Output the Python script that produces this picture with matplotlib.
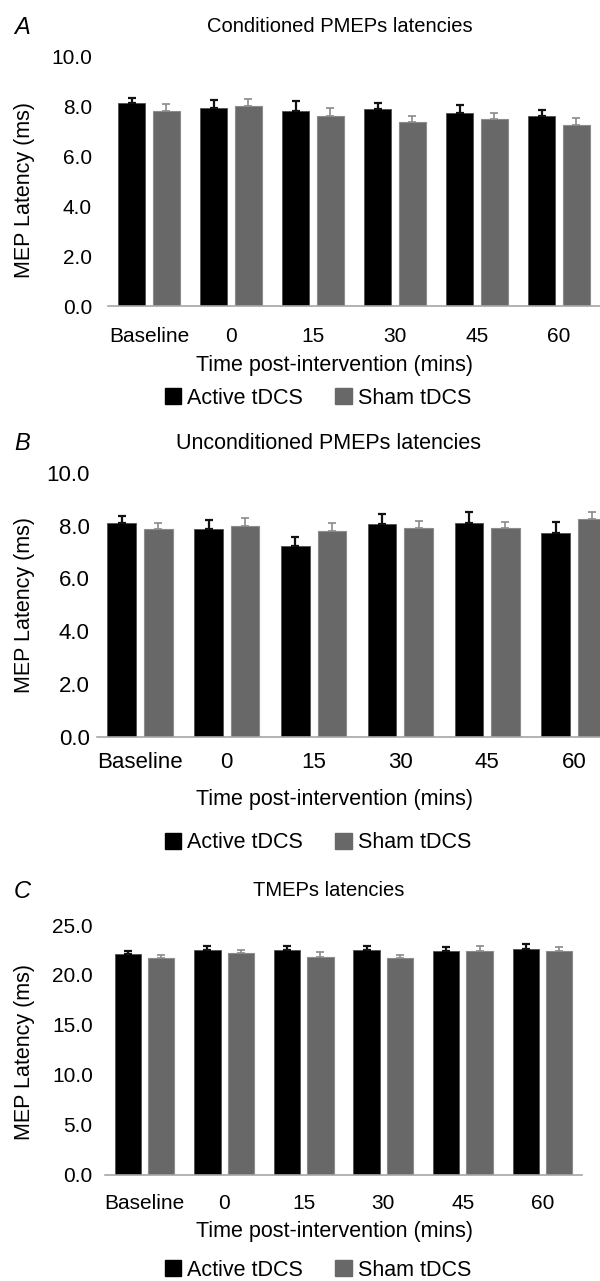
import matplotlib
matplotlib.use('Agg')
import matplotlib.pyplot as plt
from matplotlib.patches import Patch
import numpy as np

plt.rcParams['font.family'] = ['Liberation Sans', 'DejaVu Sans']

# x categories (time after the intervention)
categories = ['Baseline', '0', '15', '30', '45', '60']
groups = ['Active tDCS', 'Sham tDCS']

# panel A - conditioned PMEPs
cond_active = [8.11, 7.92, 7.81, 7.87, 7.73, 7.59]
cond_active_err = [0.23, 0.32, 0.39, 0.27, 0.31, 0.27]
cond_sham = [7.81, 8.01, 7.59, 7.35, 7.48, 7.25]
cond_sham_err = [0.27, 0.28, 0.32, 0.27, 0.23, 0.28]

# panel B - unconditioned PMEPs
uncond_active = [8.09, 7.85, 7.22, 8.05, 8.09, 7.72]
uncond_active_err = [0.28, 0.37, 0.36, 0.38, 0.43, 0.43]
uncond_sham = [7.85, 8.00, 7.78, 7.90, 7.90, 8.23]
uncond_sham_err = [0.24, 0.28, 0.32, 0.28, 0.25, 0.28]

# panel C - TMEPs
tmep_active = [22.07, 22.53, 22.53, 22.53, 22.40, 22.63]
tmep_active_err = [0.33, 0.40, 0.40, 0.40, 0.43, 0.43]
tmep_sham = [21.73, 22.17, 21.83, 21.73, 22.40, 22.40]
tmep_sham_err = [0.30, 0.33, 0.44, 0.30, 0.53, 0.43]

W, H = 600, 1281
BLACK = '#000000'
GREY = '#686868'

fig = plt.figure(figsize=(W / 100, H / 100), dpi=100)


# pixel coords (from top left) -> figure fraction
def px(x, y):
    return x / W, 1 - y / H


def plotPanel(letter, title, active, activeErr, sham, shamErr, ymax, step,
              left, right, top, bottom, fs, ypad, xpad,
              titleY, titleX, xlabY, legY, ylabY):
    ax = fig.add_axes([left / W, 1 - bottom / H, (right - left) / W, (bottom - top) / H])
    x = np.arange(len(categories))
    w = 0.33
    off = 0.21
    ax.bar(x - off, active, w, color=BLACK, edgecolor='#505050', linewidth=0.6, zorder=2)
    ax.bar(x + off, sham, w, color=GREY, edgecolor='#8c8c8c', linewidth=0.8, zorder=2)
    # only the upper half of the error bar is drawn, like excel "plus" bars
    ax.errorbar(x - off, active, yerr=[np.zeros(len(active)), activeErr], fmt='none',
                ecolor='#111111', elinewidth=1.6, capsize=3, capthick=1.6, zorder=3)
    ax.errorbar(x + off, sham, yerr=[np.zeros(len(sham)), shamErr], fmt='none',
                ecolor='#8a8a8a', elinewidth=1.2, capsize=3, capthick=1.2, zorder=3)

    ax.set_xlim(-0.5, len(categories) - 0.5)
    ax.set_ylim(0, ymax)
    ax.set_yticks(np.arange(0, ymax + 0.01, step))
    ax.set_yticklabels(['%.1f' % v for v in np.arange(0, ymax + 0.01, step)])
    ax.set_xticks(x)
    ax.set_xticklabels(categories)
    ax.tick_params(axis='y', length=0, pad=ypad, labelsize=fs)
    ax.tick_params(axis='x', length=0, pad=xpad, labelsize=fs)
    for s in ['top', 'right', 'left']:
        ax.spines[s].set_visible(False)
    ax.spines['bottom'].set_color('#a6a6a6')
    ax.spines['bottom'].set_linewidth(1.2)
    ax.spines['bottom'].set_zorder(4)
    ax.patch.set_alpha(0)

    fig.text(*px(14, titleY), letter, fontsize=17, style='italic', ha='left', va='center')
    fig.text(*px(titleX, titleY), title, fontsize=fs - 0.5, ha='center', va='center')
    fig.text(*px(334, xlabY), 'Time post-intervention (mins)', fontsize=15.5,
             ha='center', va='center')
    fig.text(*px(25, ylabY), 'MEP Latency (ms)', fontsize=15.5, rotation=90,
             ha='center', va='center')

    handles = [Patch(facecolor=BLACK, edgecolor=BLACK), Patch(facecolor=GREY, edgecolor=GREY)]
    fig.legend(handles, groups, loc='center', bbox_to_anchor=px(318, legY), ncol=2,
               frameon=False, fontsize=15.5, handlelength=0.75, handleheight=0.7,
               handletextpad=0.3, columnspacing=1.5, borderpad=0, borderaxespad=0)
    return ax


plotPanel('A', 'Conditioned PMEPs latencies', cond_active, cond_active_err, cond_sham, cond_sham_err,
          10, 2, 108, 600, 56, 306, 15, 11.5, 15, 27, 340, 365, 398, 190)
plotPanel('B', 'Unconditioned PMEPs latencies', uncond_active, uncond_active_err, uncond_sham, uncond_sham_err,
          10, 2, 96.6, 617.4, 472.7, 736.7, 16, 5, 11, 444, 329, 799, 843, 605)
plotPanel('C', 'TMEPs latencies', tmep_active, tmep_active_err, tmep_sham, tmep_sham_err,
          25, 5, 104.7, 582.3, 925, 1175, 15, 8.6, 13.7, 891, 329, 1232, 1270, 1052)

fig.savefig('out.png', dpi=100)
